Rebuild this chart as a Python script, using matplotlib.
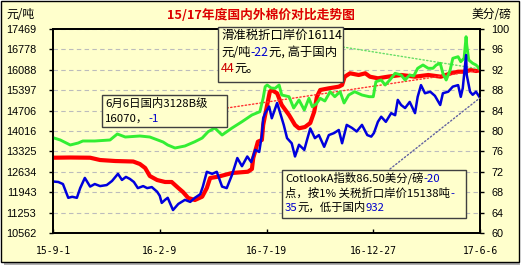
import matplotlib
matplotlib.use("Agg")
import matplotlib.pyplot as plt
from matplotlib.patches import Rectangle
from matplotlib.text import Annotation
import pandas as pd

CJK = ['Noto Sans CJK SC', 'DejaVu Sans']
plt.rcParams['font.family'] = CJK

START = pd.Timestamp('2015-09-01')

# domestic 3128B price (yuan/t), left axis
red_days = [0, 26, 56, 71, 94, 121, 131, 139, 146, 157, 169, 179, 189, 196, 204, 214, 225, 232,
            237, 249, 270, 294, 300, 302, 309, 315, 317, 323, 327, 330, 338, 345, 356, 365, 371,
            380, 388, 394, 398, 403, 416, 431, 436, 440, 448, 461, 471, 478, 490, 505, 525, 546,
            566, 585, 600, 611, 621, 630, 638, 644]
red_vals = [13111, 13118, 13111, 13033, 12999, 12982, 12898, 12763, 12492, 12356, 12289, 12289,
            12086, 11950, 11747, 11679, 11791, 12086, 12425, 12468, 12593, 12637, 12729, 13101,
            13653, 13711, 14219, 14896, 15346, 15404, 15292, 14896, 14557, 14219, 14107, 14151,
            14286, 14669, 15177, 15404, 15461, 15516, 15573, 15854, 15969, 15912, 15969, 15854,
            15800, 15854, 15912, 15854, 15912, 15854, 15969, 16023, 16023, 16081, 16047, 16070]

# sliding-duty import price (yuan/t), left axis
green_days = [0, 11, 26, 38, 45, 63, 86, 97, 109, 131, 146, 158, 166, 173, 184, 199, 214, 225,
              234, 244, 255, 270, 285, 300, 312, 317, 320, 323, 329, 335, 341, 345, 356, 363,
              371, 379, 386, 391, 397, 403, 410, 418, 425, 433, 439, 446, 455, 466, 477, 483,
              487, 495, 501, 508, 516, 525, 531, 538, 544, 550, 558, 566, 573, 578, 584, 588,
              593, 599, 603, 611, 615, 620, 623, 624, 627, 633, 638, 644]
green_vals = [13789, 13711, 13542, 13609, 13677, 13677, 13711, 13914, 13812, 13846, 13812, 13711,
              13643, 13542, 13440, 13508, 13653, 13778, 13992, 14117, 13880, 14117, 14330, 14557,
              14669, 15133, 15515, 15573, 15471, 15461, 15573, 15234, 15177, 14794, 15065, 14727,
              15123, 14838, 14930, 15123, 15031, 15346, 15177, 15346, 14964, 15234, 15346, 15234,
              15177, 15177, 15685, 15742, 15573, 15742, 15969, 15912, 15742, 15912, 15878, 16138,
              16250, 16138, 16138, 16250, 16308, 15969, 15742, 16081, 16477, 16531, 16362, 16477,
              17208, 16927, 16419, 16308, 16250, 16114]

# Cotlook A index (US cents/lb), right axis
blue_days = [0, 8, 15, 23, 29, 36, 41, 48, 56, 63, 71, 81, 89, 98, 104, 110, 116, 122, 128, 136,
             142, 149, 157, 161, 164, 169, 173, 181, 189, 199, 207, 214, 222, 226, 232, 240, 247,
             255, 262, 270, 278, 285, 293, 299, 305, 311, 315, 317, 320, 326, 330, 338, 342, 348,
             353, 360, 365, 371, 379, 383, 388, 395, 401, 409, 416, 424, 431, 436, 443, 451, 458,
             466, 474, 480, 484, 490, 495, 502, 510, 516, 520, 525, 531, 538, 546, 550, 555, 561,
             569, 576, 584, 588, 596, 603, 611, 615, 618, 623, 624, 629, 633, 638, 644]
blue_vals = [70.1, 70.0, 69.6, 66.9, 67.1, 66.9, 68.8, 70.8, 69.1, 69.6, 69.2, 69.4, 70.2, 71.6,
             70.4, 71.0, 70.6, 70.0, 68.8, 69.2, 68.8, 69.0, 68.1, 67.3, 65.9, 66.5, 66.9, 64.5,
             65.7, 66.5, 66.1, 66.9, 67.6, 69.1, 72.0, 71.6, 72.0, 69.1, 68.8, 71.4, 74.7, 73.1,
             75.0, 73.9, 76.3, 75.9, 79.2, 82.5, 83.5, 84.8, 82.5, 85.5, 83.8, 81.2, 78.6, 77.6,
             75.0, 77.3, 76.3, 78.2, 80.5, 78.6, 79.2, 76.9, 79.2, 79.6, 80.2, 77.6, 81.2, 80.6,
             79.9, 81.2, 79.2, 78.9, 79.6, 81.8, 82.8, 81.8, 83.5, 83.1, 86.1, 85.1, 84.5, 85.7,
             83.5, 86.7, 89.0, 87.4, 87.7, 86.9, 85.1, 87.4, 87.7, 88.7, 89.0, 86.7, 88.4, 94.9,
             91.0, 87.7, 87.1, 87.7, 86.5]

left_ticks = [10562, 11253, 11943, 12634, 13325, 14016, 14706, 15397, 16088, 16778, 17469]
right_ticks = [60, 64, 68, 72, 76, 80, 84, 88, 92, 96, 100]
x_tick_days = [0, 161, 322, 483, 644]
x_tick_labels = ['15-9-1', '16-2-9', '16-7-19', '16-12-27', '17-6-6']

W, H = 524, 268
BG = '#ffffcc'
BLUE_TXT = '#0000cc'
RED_TXT = '#cc0000'


def to_dates(days):
    return START + pd.to_timedelta(days, unit='D')


def fx(px):
    return px / W


def fy(py):
    return 1 - py / H


fig = plt.figure(figsize=(W / 100, H / 100), dpi=100, facecolor='white')

# outer panel with a little shadow
fig.patches.append(Rectangle((fx(4), fy(265)), fx(516), 261 / H, transform=fig.transFigure,
                             fc='#b0b0b0', ec='none', zorder=-2))
fig.patches.append(Rectangle((fx(1), fy(262)), fx(518), 261 / H, transform=fig.transFigure,
                             fc=BG, ec='black', lw=1, zorder=-1))

ax = fig.add_axes([fx(53), fy(233), fx(427), 204 / H])
ax.set_facecolor(BG)
ax2 = ax.twinx()

ax.plot(to_dates(red_days), red_vals, color='#ff0000', lw=3.0, solid_joinstyle='round', zorder=3)
ax.plot(to_dates(green_days), green_vals, color='#33ee33', lw=2.1, zorder=4)
ax2.plot(to_dates(blue_days), blue_vals, color='#0000dd', lw=1.8)

ax.set_xlim(START, to_dates([644])[0])
ax.set_ylim(left_ticks[0], left_ticks[-1])
ax2.set_ylim(right_ticks[0], right_ticks[-1])

ax.set_yticks(left_ticks)
ax.set_yticklabels([str(v) for v in left_ticks], family='Liberation Sans', fontsize=7.8)
ax2.set_yticks(right_ticks)
ax2.set_yticklabels([str(v) for v in right_ticks], family='Liberation Sans', fontsize=7.8)
ax.set_xticks(to_dates(x_tick_days))
ax.set_xticklabels(x_tick_labels, family='DejaVu Sans Mono', fontsize=7)

ax.yaxis.grid(True, linestyle=(0, (4, 3)), color='#bcbcbc', lw=0.8)
ax.tick_params(axis='y', direction='out', length=3, width=1, pad=9)
ax2.tick_params(axis='y', direction='out', length=3, width=1, pad=5)
ax.tick_params(axis='x', direction='in', length=3, width=1, pad=9)
for a in (ax, ax2):
    for s in a.spines.values():
        s.set_linewidth(1.3)
        s.set_color('black')

# dotted connectors from the call-out boxes to the last points
ax.annotate('', xy=(to_dates([red_days[-1]])[0], red_vals[-1]), xycoords='data',
            xytext=(fx(227), fy(108)), textcoords='figure fraction', annotation_clip=False,
            arrowprops=dict(arrowstyle='-', color='#ff3030', ls=':', lw=1, shrinkA=0, shrinkB=0))
ax.annotate('', xy=(to_dates([green_days[-1]])[0], green_vals[-1]), xycoords='data',
            xytext=(fx(343), fy(47)), textcoords='figure fraction', annotation_clip=False,
            arrowprops=dict(arrowstyle='-', color='#66dd66', ls=':', lw=1, shrinkA=0, shrinkB=0))
ax2.annotate('', xy=(to_dates([blue_days[-1]])[0], blue_vals[-1]), xycoords='data',
             xytext=(fx(390), fy(169)), textcoords='figure fraction', annotation_clip=False,
             arrowprops=dict(arrowstyle='-', color='#6060a0', ls=':', lw=1, shrinkA=0, shrinkB=0))


def callout(x0, y0, x1, y1, tx, rows, row_y, size=9):
    fig.patches.append(Rectangle((fx(x0), fy(y1)), fx(x1 - x0), (y1 - y0) / H,
                                 transform=fig.transFigure, fc=BG, ec='#404040', lw=1, zorder=5))
    for segs, ry in zip(rows, row_y):
        prev = None
        for s, c in segs:
            if prev is None:
                prev = fig.text(fx(tx), fy(ry), s, color=c, fontsize=size, va='center',
                                ha='left', zorder=6)
            else:
                # next piece starts where the previous one ends
                prev = Annotation(s, xy=(1, 0), xycoords=prev, va='bottom', ha='left',
                                  color=c, fontsize=size, annotation_clip=False, zorder=6)
                fig.add_artist(prev)


callout(102, 95, 227, 127, 105,
        [[('6月6日国内3128B级', 'black')],
         [('16070，', 'black'), ('-1', BLUE_TXT)]],
        [103, 119], size=8.2)
callout(218, 27, 343, 82, 221,
        [[('滑准税折口岸价16114', 'black')],
         [('元/吨', 'black'), ('-22', BLUE_TXT), ('元, 高于国内', 'black')],
         [('44', RED_TXT), ('元。', 'black')]],
        [35, 52, 68], size=8.9)
callout(282, 170, 466, 218, 285,
        [[('CotlookA指数86.50美分/磅', 'black'), ('-20', BLUE_TXT)],
         [('点，按1% 关税折口岸价15138吨', 'black'), ('-', BLUE_TXT)],
         [('35', BLUE_TXT), ('元，低于国内', 'black'), ('932', BLUE_TXT)]],
        [178, 193, 208], size=8.2)

fig.text(fx(261), fy(15), '15/17年度国内外棉价对比走势图', color='#dd0000', fontsize=9.2,
         fontweight='bold', ha='center', va='center')
fig.text(fx(6), fy(15), '元/吨', fontsize=8.5, ha='left', va='center')
fig.text(fx(511), fy(15), '美分/磅', fontsize=8.5, ha='right', va='center')

fig.savefig('out.png', dpi=100, facecolor='white')
